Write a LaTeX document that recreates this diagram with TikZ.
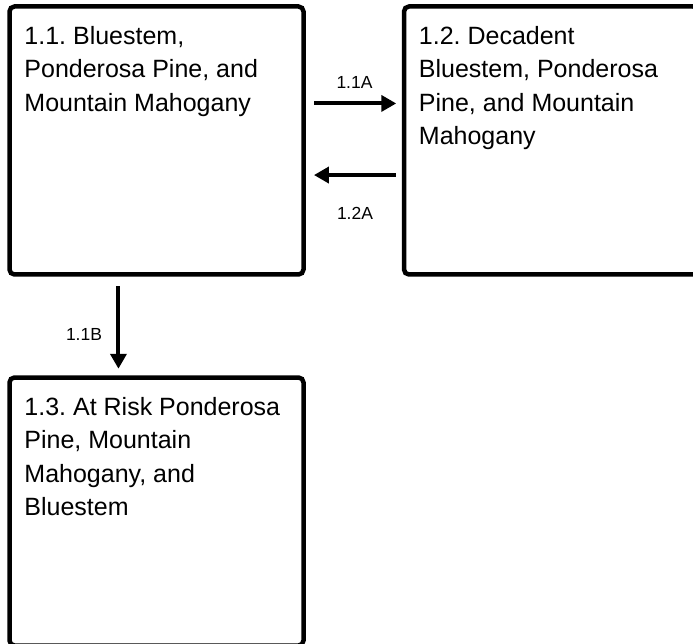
\documentclass[tikz,border=0pt]{standalone}
\usepackage{fontspec}
\setmainfont{Liberation Sans}
\usetikzlibrary{arrows.meta,calc}
\frenchspacing
\newcommand{\boxpar}[1]{\parbox[t]{272pt}{\raggedright\frenchspacing\fontsize{25}{33.5}\selectfont #1}}
\begin{document}
\begin{tikzpicture}[x=1pt,y=-1pt,
  box/.style={draw, line width=4.5pt, rounded corners=5pt, inner sep=0pt, minimum width=294pt, minimum height=268pt},
  boxtext/.style={anchor=base west, inner sep=0pt},
  lbl/.style={font=\fontsize{17.5}{20}\selectfont, inner sep=0pt},
  conn/.style={line width=4pt, -{Triangle[length=15pt,width=16pt]}}]
\useasboundingbox (0,0) rectangle (693,644);
\clip (0,0) rectangle (693,644);
\node[box] (b11) at (156.5,140.5) {};
\node[box] (b12) at (551,140.5) {};
\node[box] (b13) at (156.5,511.5) {};
\node[boxtext] (t11) at ($(b11.north west)+(17,40)$) {\boxpar{1.1. Bluestem,\\Ponderosa Pine, and\\Mountain Mahogany}};
\node[boxtext] (t12) at ($(b12.north west)+(17,40)$) {\boxpar{1.2. Decadent\\Bluestem, Ponderosa\\Pine, and Mountain\\Mahogany}};
\node[boxtext] (t13) at ($(b13.north west)+(17,40)$) {\boxpar{1.3. At Risk Ponderosa\\Pine, Mountain\\Mahogany, and\\Bluestem}};
\node[lbl] (l11a) at (354.5,82) {1.1A};
\node[lbl] (l12a) at (355,213) {1.2A};
\node[lbl] (l11b) at (84,334) {1.1B};
\draw[conn] ($(b11.north east)+(8.5,99.2)$) -- ($(b12.north west)+(-5.5,99.2)$);
\draw[conn] ($(b12.north west)+(-6,170.8)$) -- ($(b11.north east)+(8.2,170.8)$);
\draw[conn] ($(b11.south west)+(111.2,9.5)$) -- ($(b13.north west)+(111.2,-6.5)$);
\end{tikzpicture}
\end{document}
